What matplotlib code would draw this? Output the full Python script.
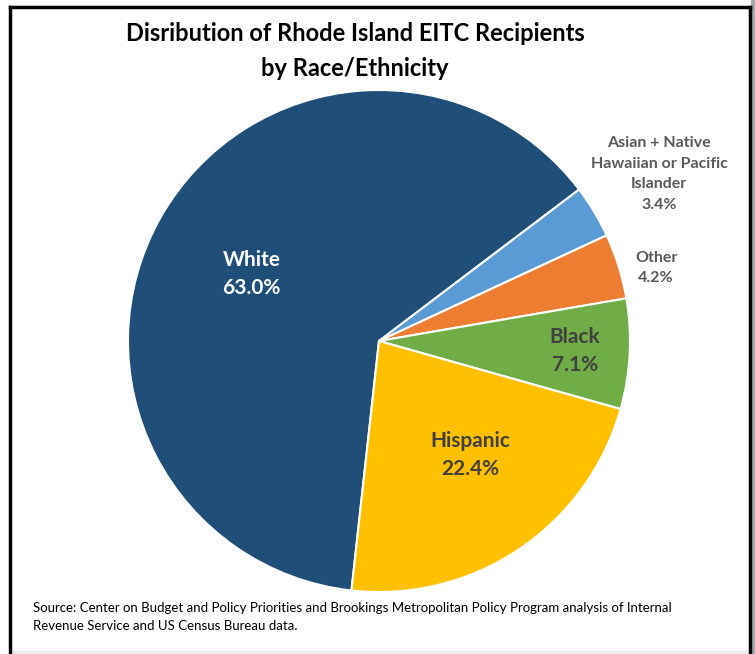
import matplotlib
matplotlib.use("Agg")
import matplotlib.pyplot as plt
import numpy as np

categories = ["White", "Asian + Native\nHawaiian or Pacific\nIslander", "Other", "Black", "Hispanic"]
values = [63.0, 3.4, 4.2, 7.1, 22.4]
colors = ["#1F4E79", "#5B9BD5", "#ED7D31", "#70AD47", "#FFC000"]
label_colors = ["white", "#595959", "#595959", "#404040", "#404040"]
label_sizes = [15, 11.5, 11.5, 15, 15]
# label centres, in pie-radius units relative to the pie centre
label_pos = [(-0.508, 0.267), (1.116, 0.665), (1.104, 0.291), (0.781, -0.040), (0.363, -0.454)]

plt.rcParams['font.family'] = ['Lato', 'DejaVu Sans']

W, H = 755, 654
fig = plt.figure(figsize=(W / 100, H / 100), dpi=100)

# frame
fig.add_artist(plt.Rectangle((751 / W, 0), 4 / W, 1, transform=fig.transFigure, color="#A6A6A6", zorder=0))
fig.add_artist(plt.Line2D([10 / W, 10 / W], [0, 1 - 7 / H], transform=fig.transFigure, color="black", lw=2.5))
fig.add_artist(plt.Line2D([10 / W, 750 / W], [1 - 7 / H, 1 - 7 / H], transform=fig.transFigure, color="black", lw=2.5))
fig.add_artist(plt.Line2D([750 / W, 750 / W], [0, 1 - 7 / H], transform=fig.transFigure, color="black", lw=2.5))
fig.add_artist(plt.Rectangle((10 / W, 0), 740 / W, 3 / H, transform=fig.transFigure, color="#EDEDED", zorder=0))

cx, cy, r = 379, 341, 251
ax = fig.add_axes([(cx - r) / W, (H - cy - r) / H, 2 * r / W, 2 * r / H])
wedges, _ = ax.pie(values, colors=colors, startangle=-96.3, counterclock=False,
                   wedgeprops=dict(edgecolor="white", linewidth=1.5))
ax.set_xlim(-1, 1)
ax.set_ylim(-1, 1)
ax.set_aspect("equal")
ax.axis("off")

for cat, v, c, s, (lx, ly) in zip(categories, values, label_colors, label_sizes, label_pos):
    ls = 1.55 if s >= 14 else 1.6
    ax.text(lx, ly, f"{cat}\n{v:.1f}%", ha="center", va="center",
            color=c, fontsize=s, fontweight="bold", linespacing=ls)

fig.text(355 / W, 1 - 51 / H, "Disribution of Rhode Island EITC Recipients\nby Race/Ethnicity",
         ha="center", va="center", fontsize=17, fontweight="bold", color="black", linespacing=1.6)

fig.text(33 / W, 1 - 617 / H,
         "Source: Center on Budget and Policy Priorities and Brookings Metropolitan Policy Program analysis of Internal\nRevenue Service and US Census Bureau data.",
         ha="left", va="center", fontsize=9.5, color="black", linespacing=1.5)

fig.savefig("out.png", dpi=100)
